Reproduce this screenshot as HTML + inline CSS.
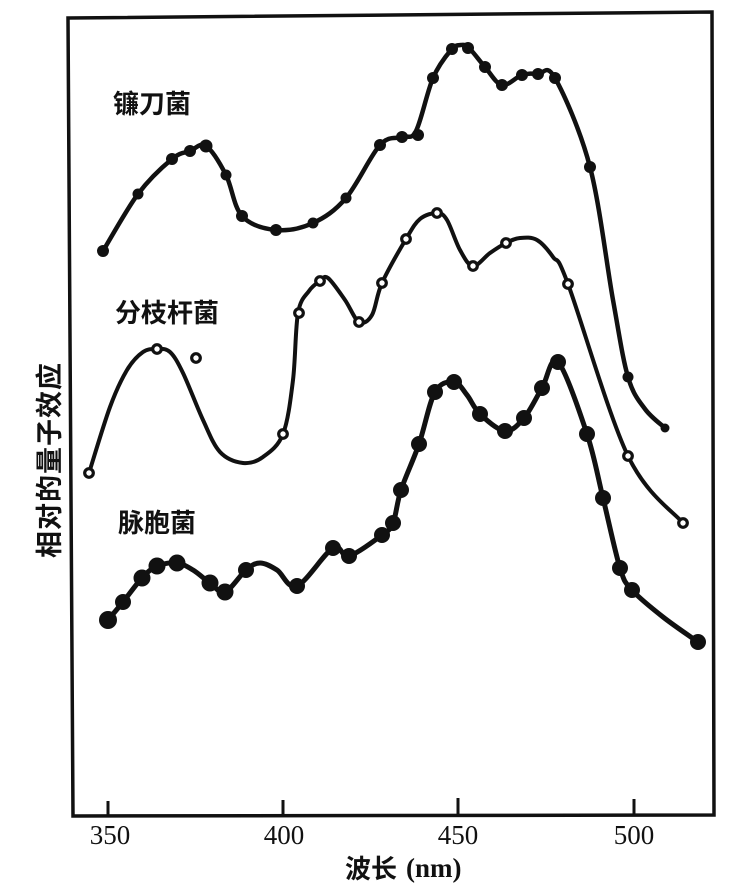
<!DOCTYPE html>
<html><head><meta charset="utf-8">
<style>
html,body{margin:0;padding:0;background:#fff;}
svg{display:block;}
.cjk{font-family:"Liberation Sans","Noto Sans CJK SC","WenQuanYi Zen Hei",sans-serif;font-weight:bold;fill:#111;}
.num{font-family:"Liberation Serif",serif;fill:#111;}
</style></head>
<body>
<svg id="s" width="751" height="891" viewBox="0 0 751 891" xmlns="http://www.w3.org/2000/svg">
<rect width="751" height="891" fill="#fff"/>
<!-- frame -->
<path d="M68,18 L712,12 L714,815 L73,816 Z" fill="none" stroke="#111" stroke-width="3.5" stroke-linejoin="miter"/>
<!-- ticks -->
<path d="M108,815 V801 M283,815 V800 M458,815 V798 M634,815 V799" stroke="#111" stroke-width="3"/>
<!-- tick labels -->
<text class="num" x="110" y="844" font-size="27" text-anchor="middle">350</text>
<text class="num" x="284" y="844" font-size="27" text-anchor="middle">400</text>
<text class="num" x="458" y="844" font-size="27" text-anchor="middle">450</text>
<text class="num" x="634" y="844" font-size="27" text-anchor="middle">500</text>
<!-- axis titles -->
<text class="cjk" x="345" y="878" font-size="26">波长</text>
<text class="num" x="406" y="877" font-size="27" font-weight="bold">(nm)</text>
<text class="cjk" transform="translate(50,460) rotate(-90)" font-size="27" text-anchor="middle" dominant-baseline="central" letter-spacing="1">相对的量子效应</text>
<!-- series labels -->
<text class="cjk" x="113" y="113" font-size="26">镰刀菌</text>
<text class="cjk" x="115" y="322" font-size="26">分枝杆菌</text>
<text class="cjk" x="118" y="532" font-size="26">脉胞菌</text>

<path id="p1" fill="none" stroke="#111" stroke-width="4.5" stroke-linejoin="round" stroke-linecap="round" d="M103,251 L138,194 L172,159 L190,151 L206,146 L226,175 L242,216 L276,230 L313,223 L346,198 L380,145 L402,137 L416,131 L433,78 L451,50 L461,45 L469,48 L485,67 L502,85 L522,75 L538,74 L555,78 L590,167 L613,300 L628,377 L645,409 L665,428"/>
<path id="p2" fill="none" stroke="#111" stroke-width="4" stroke-linejoin="round" stroke-linecap="round" d="M89,473 L110,407 L127,370 L143,352 L157,349 L170,352 L183,373 L203,420 L220,452 L243,463 L263,457 L283,434 L293,380 L298,313 L309,291 L320,281 L328,278 L345,300 L359,322 L372,315 L382,283 L406,239 L420,219 L437,213 L447,220 L460,250 L473,266 L490,253 L506,243 L520,238 L537,240 L553,257 L568,284 L628,456 L683,523"/>
<path id="p3" fill="none" stroke="#111" stroke-width="5" stroke-linejoin="round" stroke-linecap="round" d="M108,620 L123,602 L142,578 L157,566 L177,563 L193,570 L210,583 L225,592 L246,570 L260,563 L277,570 L297,586 L333,548 L349,556 L382,535 L393,523 L401,490 L419,444 L435,392 L454,382 L467,395 L480,414 L505,431 L524,418 L542,388 L558,362 L587,434 L603,498 L620,568 L632,590 L663,617 L698,642"/>

<g id="m1" fill="#111">
<circle cx="103" cy="251" r="6"/><circle cx="138" cy="194" r="5.5"/><circle cx="172" cy="159" r="6"/><circle cx="190" cy="151" r="6"/><circle cx="206" cy="146" r="6.5"/><circle cx="226" cy="175" r="5.5"/><circle cx="242" cy="216" r="6"/><circle cx="276" cy="230" r="6"/><circle cx="313" cy="223" r="5.5"/><circle cx="346" cy="198" r="5.5"/><circle cx="380" cy="145" r="6"/><circle cx="402" cy="137" r="6"/><circle cx="418" cy="135" r="6"/><circle cx="433" cy="78" r="6"/><circle cx="452" cy="49" r="6"/><circle cx="468" cy="48" r="6"/><circle cx="485" cy="67" r="6"/><circle cx="502" cy="85" r="6"/><circle cx="522" cy="75" r="6"/><circle cx="538" cy="74" r="6"/><circle cx="555" cy="78" r="6"/><circle cx="590" cy="167" r="6"/><circle cx="628" cy="377" r="5.5"/><circle cx="665" cy="428" r="4.5"/>
</g>
<g id="m2" fill="#fff" stroke="#111" stroke-width="3.2">
<circle cx="89" cy="473" r="4.3"/><circle cx="157" cy="349" r="4.3"/><circle cx="196" cy="358" r="4.3"/><circle cx="283" cy="434" r="4.3"/><circle cx="299" cy="313" r="4.3"/><circle cx="320" cy="281" r="4.3"/><circle cx="359" cy="322" r="4.3"/><circle cx="382" cy="283" r="4.3"/><circle cx="406" cy="239" r="4.3"/><circle cx="437" cy="213" r="4.3"/><circle cx="473" cy="266" r="4.3"/><circle cx="506" cy="243" r="4.3"/><circle cx="568" cy="284" r="4.3"/><circle cx="628" cy="456" r="4.3"/><circle cx="683" cy="523" r="4.3"/>
</g>
<g id="m3" fill="#111">
<circle cx="108" cy="620" r="9"/><circle cx="123" cy="602" r="8"/><circle cx="142" cy="578" r="8.5"/><circle cx="157" cy="566" r="8.5"/><circle cx="177" cy="563" r="8.5"/><circle cx="210" cy="583" r="8.5"/><circle cx="225" cy="592" r="8.5"/><circle cx="246" cy="570" r="8"/><circle cx="297" cy="586" r="8"/><circle cx="333" cy="548" r="8"/><circle cx="349" cy="556" r="8"/><circle cx="382" cy="535" r="8"/><circle cx="393" cy="523" r="8"/><circle cx="401" cy="490" r="8"/><circle cx="419" cy="444" r="8"/><circle cx="435" cy="392" r="8"/><circle cx="454" cy="382" r="8"/><circle cx="480" cy="414" r="8"/><circle cx="505" cy="431" r="8"/><circle cx="524" cy="418" r="8"/><circle cx="542" cy="388" r="8"/><circle cx="558" cy="362" r="8"/><circle cx="587" cy="434" r="8"/><circle cx="603" cy="498" r="8"/><circle cx="620" cy="568" r="8"/><circle cx="632" cy="590" r="8"/><circle cx="698" cy="642" r="8"/>
</g>
</svg>
<script>
(function(){
  function smooth(id){
    var el=document.getElementById(id);
    var d=el.getAttribute('d');
    var nums=d.match(/-?\d+(\.\d+)?/g).map(Number);
    var p=[];for(var i=0;i<nums.length;i+=2)p.push([nums[i],nums[i+1]]);
    var out='M'+p[0][0]+','+p[0][1];
    for(var i=0;i<p.length-1;i++){
      var p0=p[i-1]||p[i],p1=p[i],p2=p[i+1],p3=p[i+2]||p[i+1];
      var c1x=p1[0]+(p2[0]-p0[0])/6,c1y=p1[1]+(p2[1]-p0[1])/6;
      var c2x=p2[0]-(p3[0]-p1[0])/6,c2y=p2[1]-(p3[1]-p1[1])/6;
      out+=' C'+c1x.toFixed(2)+','+c1y.toFixed(2)+' '+c2x.toFixed(2)+','+c2y.toFixed(2)+' '+p2[0]+','+p2[1];
    }
    el.setAttribute('d',out);
  }
  smooth('p1');smooth('p2');smooth('p3');
})();
</script>
</body></html>
